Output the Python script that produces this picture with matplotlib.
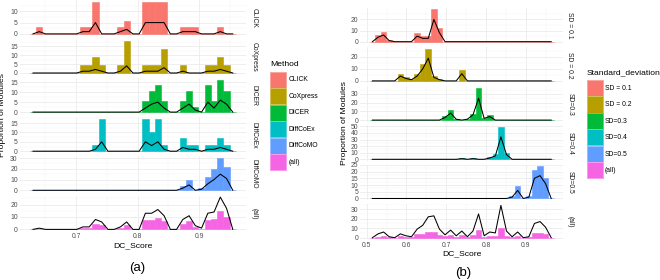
import numpy as np
import matplotlib
matplotlib.use("Agg")
import matplotlib.pyplot as plt
from matplotlib.patches import Rectangle
from matplotlib.colors import to_rgb

plt.rcParams['font.family'] = ['Liberation Sans', 'DejaVu Sans']

# ---------------- data: panel (a) ----------------
a_methods = ["CLICK", "CoXpress", "DICER", "DiffCoEx", "DiffCoMO", "(all)"]
a_bin_start, a_bin_width, a_nbins = 0.625, 0.01015, 33

click_bar = [0, 2.86, 0, 0, 0, 0, 0, 0, 2.86, 2.86, 14.29,
             0, 0, 0, 2.86, 5.71, 0, 0, 14.29, 14.29, 14.29, 14.29,
             0, 0, 2.86, 2.86, 2.86, 0, 0, 0, 2.86, 0, 0]
click_line = [0, 1, 0, 0, 0, 0, 0, 0, 1, 1, 5,
              0, 0, 0, 1, 2, 0, 0, 5, 5, 5, 5,
              0, 0, 1, 1, 1, 0, 0, 0, 1, 0, 0]
coxpress_bar = [0, 0, 0, 0, 0, 0, 0, 0, 4.55, 4.55, 9.09,
                4.55, 0, 0, 4.55, 18.18, 0, 0, 4.55, 4.55, 4.55, 13.64,
                0, 0, 4.55, 0, 0, 0, 4.55, 4.55, 9.09, 4.55, 0]
coxpress_line = [0, 0, 0, 0, 0, 0, 0, 0, 1, 1, 2,
                 1, 0, 0, 1, 4, 0, 0, 1, 1, 1, 3,
                 0, 0, 1, 0, 0, 0, 1, 1, 2, 1, 0]
dicer_bar = [0, 0, 0, 0, 0, 0, 0, 0, 0, 0, 0,
             0, 0, 0, 0, 0, 0, 0, 5.41, 10.81, 13.51, 5.41,
             0, 0, 5.41, 10.81, 2.70, 0, 13.51, 5.41, 16.22, 10.81, 0]
dicer_line = [0, 0, 0, 0, 0, 0, 0, 0, 0, 0, 0,
              0, 0, 0, 0, 0, 0, 0, 2, 4, 5, 2,
              0, 0, 2, 4, 1, 0, 5, 2, 6, 4, 0]
diffcoex_bar = [0, 0, 0, 0, 0, 0, 0, 0, 0, 0, 3.45,
                17.24, 0, 0, 0, 0, 0, 0, 17.24, 10.34, 17.24, 3.45,
                0, 0, 6.90, 3.45, 3.45, 0, 3.45, 3.45, 6.90, 3.45, 0]
diffcoex_line = [0, 0, 0, 0, 0, 0, 0, 0, 0, 0, 1,
                 5, 0, 0, 0, 0, 0, 0, 5, 3, 5, 1,
                 0, 0, 2, 1, 1, 0, 1, 1, 2, 1, 0]
diffcomo_bar = [0, 0, 0, 0, 0, 0, 0, 0, 0, 0, 0,
                0, 0, 0, 0, 0, 0, 0, 0, 0, 0, 0,
                0, 0, 4, 10, 0, 2, 12, 20, 30, 22, 0]
diffcomo_line = [0, 0, 0, 0, 0, 0, 0, 0, 0, 0, 0,
                 0, 0, 0, 0, 0, 0, 0, 0, 0, 0, 0,
                 0, 0, 2, 5, 0, 1, 6, 10, 15, 11, 0]
a_all_bar = [0, 0.58, 0, 0, 0, 0, 0, 0, 1.16, 1.16, 4.62,
             3.47, 0, 0, 1.16, 3.47, 0, 0, 7.51, 7.51, 9.25, 6.36,
             0, 0, 4.62, 6.36, 1.73, 0.58, 7.51, 8.09, 15.03, 9.83, 0]
a_all_line = [0, 1, 0, 0, 0, 0, 0, 0, 2, 2, 8,
              6, 0, 0, 2, 6, 0, 0, 13, 13, 16, 11,
              0, 0, 8, 11, 3, 1, 13, 14, 26, 17, 0]
a_yticks = [[0, 5, 10], [0, 5, 10, 15], [0, 5, 10, 15], [0, 5, 10, 15],
            [0, 10, 20, 30], [0, 10, 20]]
a_xticks = [0.7, 0.8, 0.9]

# ---------------- data: panel (b) ----------------
b_groups = ["SD = 0.1", "SD = 0.2", "SD=0.3", "SD=0.4", "SD=0.5", "(all)"]
b_bin_start, b_bin_width, b_nbins = 0.50728, 0.01405, 33

sd1_bar = [0, 6, 8.7, 1.5, 0, 0, 0, 0, 7.5, 5, 5,
           29, 12, 0, 0, 0, 0, 0, 0, 0, 0, 0,
           0, 0, 0, 0, 0, 0, 0, 0, 0, 0, 0]
sd1_line = [0, 4, 6, 1, 0, 0, 0, 0, 5, 3, 3,
            20, 8, 0, 0, 0, 0, 0, 0, 0, 0, 0,
            0, 0, 0, 0, 0, 0, 0, 0, 0, 0, 0]
sd2_bar = [0, 0, 0, 0, 0, 6, 3, 1.5, 6, 14.5, 27,
           4, 1.5, 0, 0, 0, 9, 0, 0, 0, 0, 0,
           0, 0, 0, 0, 0, 0, 0, 0, 0, 0, 0]
sd2_line = [0, 0, 0, 0, 0, 4, 2, 1, 4, 10, 19,
            3, 1, 0, 0, 0, 6, 0, 0, 0, 0, 0,
            0, 0, 0, 0, 0, 0, 0, 0, 0, 0, 0]
sd3_bar = [0, 0, 0, 0, 0, 0, 0, 0, 0, 0, 0,
           0, 0, 4.5, 11, 1.5, 0, 1.5, 7.5, 37, 2, 6,
           0, 0, 0, 0, 0, 0, 0, 0, 0, 0, 0]
sd3_line = [0, 0, 0, 0, 0, 0, 0, 0, 0, 0, 0,
            0, 0, 3, 8, 1, 0, 1, 6, 25, 2, 4,
            0, 0, 0, 0, 0, 0, 0, 0, 0, 0, 0]
sd4_bar = [0, 0, 0, 0, 0, 0, 0, 0, 0, 0, 0,
           0, 0, 0, 0, 0, 1.5, 0, 1.5, 0, 0, 3,
           8, 49, 10, 0, 0, 0, 0, 0, 0, 0, 0]
sd4_line = [0, 0, 0, 0, 0, 0, 0, 0, 0, 0, 0,
            0, 0, 0, 0, 0, 1, 0, 1, 0, 0, 2,
            5, 34, 7, 0, 0, 0, 0, 0, 0, 0, 0]
sd5_bar = [0, 0, 0, 0, 0, 0, 0, 0, 0, 0, 0,
           0, 0, 0, 0, 0, 0, 0, 0, 0, 0, 0,
           0, 0, 0, 1.5, 9, 0, 2, 21.5, 24, 15, 0]
sd5_line = [0, 0, 0, 0, 0, 0, 0, 0, 0, 0, 0,
            0, 0, 0, 0, 0, 0, 0, 0, 0, 0, 0,
            0, 0, 0, 1, 6, 0, 1, 15, 17, 11, 0]
b_all_bar = [0, 1, 2, 0.5, 0, 1.5, 1, 0.5, 3.5, 4, 6.5,
             6.5, 3, 1.5, 3, 1, 2.5, 0.5, 2.5, 8, 1, 2,
             2, 10, 2, 0.5, 2, 0, 0.5, 4.5, 5, 3.5, 0]
b_all_line = [0, 4, 6, 1, 0, 4, 2, 1, 9, 13, 22,
              23, 9, 3, 8, 2, 7, 1, 7, 25, 2, 6,
              5, 34, 7, 1, 6, 0, 1, 15, 17, 11, 0]
b_yticks = [[0, 10, 20], [0, 10, 20], [0, 10, 20, 30],
            [0, 10, 20, 30, 40, 50], [0, 5, 10, 15, 20, 25], [0, 10, 20, 30]]
b_xticks = [0.5, 0.6, 0.7, 0.8, 0.9]

colors = ["#F8766D", "#B79F00", "#00BA38", "#00BFC4", "#619CFF", "#F564E3"]

a_bars = [click_bar, coxpress_bar, dicer_bar, diffcoex_bar, diffcomo_bar, a_all_bar]
a_lines = [click_line, coxpress_line, dicer_line, diffcoex_line, diffcomo_line, a_all_line]
b_bars = [sd1_bar, sd2_bar, sd3_bar, sd4_bar, sd5_bar, b_all_bar]
b_lines = [sd1_line, sd2_line, sd3_line, sd4_line, sd5_line, b_all_line]

# ---------------- figure ----------------
W, H = 660, 280
fig = plt.figure(figsize=(W / 100, H / 100), dpi=100)

TICK_FS = 4.9
TITLE_FS = 6.1
TICK_C = "#4D4D4D"
GRID_MAJ = "#EBEBEB"
GRID_MIN = "#F3F3F3"


def lighten(c, f):
    r, g, b = to_rgb(c)
    return (r + (1 - r) * f, g + (1 - g) * f, b + (1 - b) * f)


def draw_panel(x0, x1, top0, ph, gap, start, width, nb, bars, lines,
               yticks, xticks, strips, strip_x):
    edges0 = start
    lo = start
    hi = start + width * nb
    pad = 0.05 * (hi - lo)
    centers = start + width * (np.arange(nb) + 0.5)
    axes = []
    for i in range(6):
        top = top0 + i * (ph + gap)
        ax = fig.add_axes([x0 / W, 1 - (top + ph) / H, (x1 - x0) / W, ph / H])
        ax.set_axisbelow(True)
        ax.bar(centers, bars[i], width=width, color=colors[i],
               edgecolor=colors[i], linewidth=0.4, zorder=2)
        ax.plot(centers, lines[i], color="black", lw=0.75, zorder=3)
        ymax = max(max(bars[i]), max(lines[i]))
        ax.set_ylim(-0.05 * ymax, 1.05 * ymax)
        ax.set_xlim(lo - pad, hi + pad)
        ax.set_yticks(yticks[i])
        ys = yticks[i]
        step = ys[1] - ys[0]
        ax.set_yticks([v + step / 2 for v in ys if v + step / 2 < 1.05 * ymax], minor=True)
        ax.set_xticks(xticks)
        ax.set_xticks([v + 0.05 for v in [xticks[0] - 0.1] + list(xticks)
                       if lo - pad < v + 0.05 < hi + pad], minor=True)
        ax.grid(which="major", color=GRID_MAJ, lw=0.6)
        ax.grid(which="minor", color=GRID_MIN, lw=0.35)
        for s in ax.spines.values():
            s.set_visible(False)
        ax.tick_params(which="both", length=0, labelsize=TICK_FS,
                       labelcolor=TICK_C, pad=1.4)
        if i < 5:
            ax.tick_params(axis="x", labelbottom=False)
        else:
            ax.set_xticklabels([f"{v:.1f}" for v in xticks])
            ax.tick_params(axis="x", pad=1.6)
        fig.text(strip_x / W, 1 - (top + ph / 2) / H, strips[i], rotation=-90,
                 ha="center", va="center", fontsize=TICK_FS, color="#1A1A1A")
        axes.append(ax)
    return axes


draw_panel(19.6, 246.2, 0.0, 35.5, 3.6, a_bin_start, a_bin_width, a_nbins,
           a_bars, a_lines, a_yticks, a_xticks, a_methods, 254)
draw_panel(360.4, 563.2, 7.8, 35.5, 3.7, b_bin_start, b_bin_width, b_nbins,
           b_bars, b_lines, b_yticks, b_xticks, b_groups, 570)

# axis titles and panel captions
fig.text(133 / W, 1 - 246 / H, "DC_Score", ha="center", va="center", fontsize=TITLE_FS)
fig.text(461.7 / W, 1 - 254 / H, "DC_Score", ha="center", va="center", fontsize=TITLE_FS)
fig.text(2.5 / W, 1 - 115.5 / H, "Proportion of Modules", rotation=90,
         ha="center", va="center", fontsize=TITLE_FS)
fig.text(345 / W, 1 - 123.5 / H, "Proportion of Modules", rotation=90,
         ha="center", va="center", fontsize=TITLE_FS)
fig.text(136.7 / W, 1 - 268 / H, "(a)", ha="center", va="center", fontsize=9.5)
fig.text(463.3 / W, 1 - 273 / H, "(b)", ha="center", va="center", fontsize=9.5)


def legend(title, title_y, kx, ky0, kstep, labels, lx):
    fig.text(kx / W, 1 - title_y / H, title, ha="left", va="center", fontsize=TITLE_FS)
    for i, lab in enumerate(labels):
        y = ky0 + i * kstep
        r = Rectangle((kx / W, 1 - (y + kstep - 0.4) / H), 16.3 / W, (kstep - 0.4) / H,
                      transform=fig.transFigure, facecolor=colors[i],
                      edgecolor=lighten(colors[i], 0.35), lw=0.7)
        fig.add_artist(r)
        fig.text(lx / W, 1 - (y + kstep / 2) / H, lab, ha="left", va="center",
                 fontsize=TICK_FS)


legend("Method", 64.5, 270.0, 71.7, 16.5, a_methods, 288.5)
legend("Standard_deviation", 73.0, 586.7, 80.0, 16.45, b_groups, 605.0)

fig.savefig("out.png", dpi=100)
